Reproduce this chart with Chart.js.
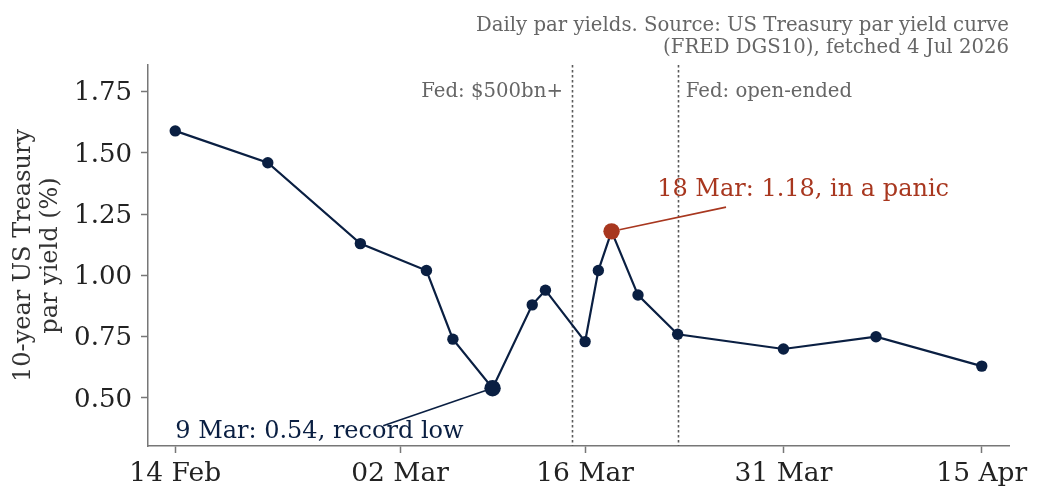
<!DOCTYPE html>
<html lang="en">
    <head>
        <meta charset="UTF-8">
        <title>10-year Treasury yield</title>
        <script src="https://cdn.jsdelivr.net/npm/chart.js@4.4.1/dist/chart.umd.min.js"></script>
        <style>
            html, body { margin: 0; padding: 0; background: #fff; }
            #wrap { width: 1043px; height: 503px; }
        </style>
    </head>
    <body>
        <div id="wrap"><canvas id="yieldChart" width="1043" height="503"></canvas></div>
        <script>
            // data (2020)
            var dates = ['2020-02-14', '2020-02-21', '2020-02-28', '2020-03-04', '2020-03-06', '2020-03-09',
                         '2020-03-12', '2020-03-13', '2020-03-16', '2020-03-17', '2020-03-18', '2020-03-20',
                         '2020-03-23', '2020-03-31', '2020-04-07', '2020-04-15'];
            var yields = [1.59, 1.46, 1.13, 1.02, 0.74, 0.54, 0.88, 0.94, 0.73, 1.02, 1.18, 0.92, 0.76, 0.70, 0.75, 0.63];
            var tickDates = ['2020-02-14', '2020-03-02', '2020-03-16', '2020-03-31', '2020-04-15'];
            var tickLabels = ['14 Feb', '02 Mar', '16 Mar', '31 Mar', '15 Apr'];
            var yTicks = [0.50, 0.75, 1.00, 1.25, 1.50, 1.75];
            var fedDates = ['2020-03-15', '2020-03-23'];
            var fedLabels = ['Fed: $500bn+', 'Fed: open-ended'];
            var lowDate = '2020-03-09';
            var panicDate = '2020-03-18';

            var NAVY = '#0a1f42';
            var RED = '#a8371f';
            var FONT = "'DejaVu Serif', serif";

            // days since 14 Feb, used as a linear x value
            var base = Date.UTC(2020, 1, 14);
            function dayNum(s) {
                var p = s.split('-');
                return (Date.UTC(+p[0], +p[1] - 1, +p[2]) - base) / 864e5;
            }

            var points = dates.map(function(d, i) { return { x: dayNum(d), y: yields[i] }; });
            var lowIdx = dates.indexOf(lowDate);
            var panicIdx = dates.indexOf(panicDate);

            var notes = [
                { idx: panicIdx, text: '18 Mar: 1.18, in a panic', color: RED, tx: 36.45, ty: 1.348, lx: 41.66, ly: 1.279 },
                { idx: lowIdx, text: '9 Mar: 0.54, record low', color: NAVY, tx: 0, ty: 0.364, lx: 15.73, ly: 0.387 }
            ];

            var extras = {
                id: 'extras',
                beforeDatasetsDraw: function(chart) {
                    var ctx = chart.ctx, xs = chart.scales.x, a = chart.chartArea;
                    ctx.save();
                    ctx.strokeStyle = '#5a5a5a';
                    ctx.lineWidth = 1.6;
                    ctx.setLineDash([2.5, 2.5]);
                    fedDates.forEach(function(d, i) {
                        var px = Math.round(xs.getPixelForValue(dayNum(d))) + 0.5;
                        ctx.beginPath();
                        ctx.moveTo(px, a.top);
                        ctx.lineTo(px, a.bottom);
                        ctx.stroke();
                    });
                    ctx.setLineDash([]);
                    ctx.fillStyle = '#666';
                    ctx.font = '19.7px ' + FONT;
                    ctx.textBaseline = 'alphabetic';
                    fedDates.forEach(function(d, i) {
                        var px = xs.getPixelForValue(dayNum(d));
                        ctx.textAlign = i === 0 ? 'right' : 'left';
                        ctx.fillText(fedLabels[i], i === 0 ? px - 9 : px + 8, a.top + 32);
                    });
                    ctx.restore();
                },
                afterDatasetsDraw: function(chart) {
                    var ctx = chart.ctx, xs = chart.scales.x, ys = chart.scales.y;
                    ctx.save();
                    notes.forEach(function(n) {
                        var px = xs.getPixelForValue(points[n.idx].x), py = ys.getPixelForValue(points[n.idx].y);
                        var lx = xs.getPixelForValue(n.lx), ly = ys.getPixelForValue(n.ly);
                        var dx = lx - px, dy = ly - py, len = Math.sqrt(dx * dx + dy * dy);
                        ctx.strokeStyle = n.color;
                        ctx.lineWidth = 1.6;
                        ctx.beginPath();
                        ctx.moveTo(px + dx / len * 8, py + dy / len * 8);
                        ctx.lineTo(lx, ly);
                        ctx.stroke();
                        ctx.fillStyle = n.color;
                        ctx.font = '24px ' + FONT;
                        ctx.textAlign = 'left';
                        ctx.textBaseline = 'middle';
                        ctx.fillText(n.text, xs.getPixelForValue(n.tx), ys.getPixelForValue(n.ty));
                    });
                    // source note, top right
                    ctx.fillStyle = '#666';
                    ctx.font = '19.7px ' + FONT;
                    ctx.textAlign = 'right';
                    ctx.textBaseline = 'alphabetic';
                    ctx.fillText('Daily par yields. Source: US Treasury par yield curve', chart.chartArea.right, 31);
                    ctx.fillText('(FRED DGS10), fetched 4 Jul 2026', chart.chartArea.right, 53);
                    ctx.restore();
                }
            };

            var ctx = document.getElementById('yieldChart').getContext('2d');
            var yieldChart = new Chart(ctx, {
                type: 'line',
                data: {
                    datasets: [{
                        label: '10-year yield',
                        data: points,
                        borderColor: NAVY,
                        borderWidth: 2.2,
                        tension: 0,
                        fill: false,
                        pointBackgroundColor: function(c) { return c.dataIndex === panicIdx ? RED : NAVY; },
                        pointBorderColor: function(c) { return c.dataIndex === panicIdx ? RED : NAVY; },
                        pointBorderWidth: 0,
                        pointRadius: function(c) { return (c.dataIndex === panicIdx || c.dataIndex === lowIdx) ? 8.2 : 5.7; }
                    }]
                },
                options: {
                    responsive: false,
                    animation: false,
                    events: [],
                    layout: { padding: { top: 65, right: 34, left: 0, bottom: 0 } },
                    plugins: { legend: { display: false }, tooltip: { enabled: false } },
                    scales: {
                        x: {
                            type: 'linear',
                            min: -2.06,
                            max: 63.06,
                            afterFit: function(s) { s.height = 57; },
                            afterBuildTicks: function(s) {
                                s.ticks = tickDates.map(function(d) { return { value: dayNum(d) }; });
                            },
                            ticks: {
                                autoSkip: false,
                                maxRotation: 0,
                                padding: 5,
                                color: '#222',
                                font: { family: FONT, size: 26.5 },
                                callback: function(v) {
                                    var i = tickDates.map(dayNum).indexOf(v);
                                    return i >= 0 ? tickLabels[i] : '';
                                }
                            },
                            grid: { drawOnChartArea: false, drawTicks: true, tickLength: 7, tickColor: '#777', tickWidth: 1.5 },
                            border: { display: true, color: '#777', width: 1.5 }
                        },
                        y: {
                            min: 0.304,
                            max: 1.859,
                            afterFit: function(s) { s.width = 148; },
                            afterBuildTicks: function(s) {
                                s.ticks = yTicks.map(function(v) { return { value: v }; });
                            },
                            ticks: {
                                padding: 9,
                                labelOffset: 2,
                                color: '#222',
                                font: { family: FONT, size: 26 },
                                callback: function(v) { return v.toFixed(2); }
                            },
                            grid: { drawOnChartArea: false, drawTicks: true, tickLength: 7, tickColor: '#777', tickWidth: 1.5 },
                            border: { display: true, color: '#777', width: 1.5 },
                            title: {
                                display: true,
                                text: ['10-year US Treasury', 'par yield (%)'],
                                color: '#333',
                                font: { family: FONT, size: 24, lineHeight: 1.1 },
                                padding: { top: 11, bottom: 0 }
                            }
                        }
                    }
                },
                plugins: [extras]
            });
        </script>
    </body>
</html>
